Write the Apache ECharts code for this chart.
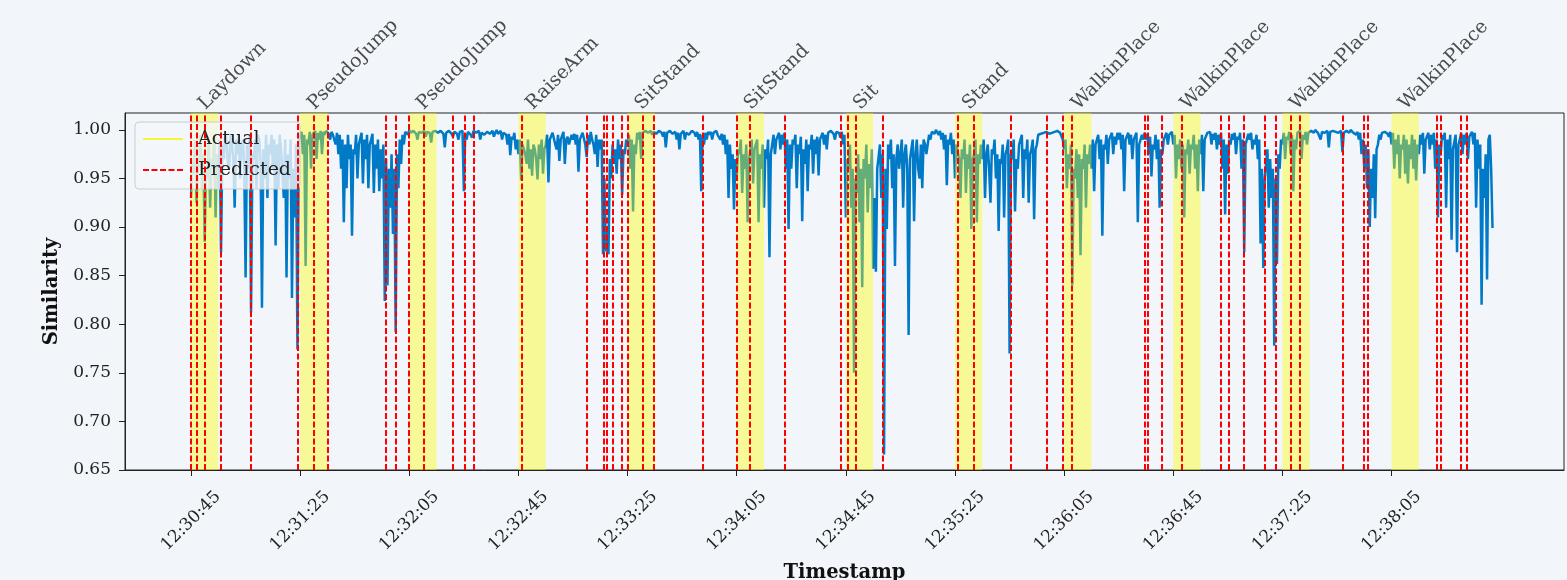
<!DOCTYPE html>
<html><head><meta charset="utf-8">
<script src="https://cdn.jsdelivr.net/npm/echarts@6/dist/echarts.min.js"></script>
<style>html,body{margin:0;padding:0;background:#f2f6fa;}#c{width:1567px;height:580px;}</style>
</head><body><div id="c"></div>
<script>
// ---- data ----
const activities = ['Laydown','PseudoJump','PseudoJump','RaiseArm','SitStand','SitStand','Sit','Stand','WalkinPlace','WalkinPlace','WalkinPlace','WalkinPlace'];
const bandStarts = ['12:30:45','12:31:25','12:32:05','12:32:45','12:33:25','12:34:05','12:34:45','12:35:25','12:36:05','12:36:45','12:37:25','12:38:05'];
const bandEnds   = ['12:30:55','12:31:35','12:32:15','12:32:55','12:33:35','12:34:15','12:34:55','12:35:35','12:36:15','12:36:55','12:37:35','12:38:15'];
const predictedTimes = ['12:30:44.9','12:30:47.1','12:30:50.1','12:30:56.0','12:31:07.0','12:31:24.0','12:31:30.1','12:31:35.2',
  '12:31:56.5','12:32:00.2','12:32:04.9','12:32:10.4','12:32:21.1','12:32:25.4','12:32:28.8','12:32:46.2',
  '12:33:10.0','12:33:16.2','12:33:17.3','12:33:19.4','12:33:22.8','12:33:24.9','12:33:30.5','12:33:34.6',
  '12:33:52.5','12:34:05.0','12:34:09.6','12:34:22.7','12:34:43.2','12:34:45.7','12:34:48.8','12:34:58.5',
  '12:35:26.0','12:35:31.7','12:35:45.5','12:35:58.5','12:36:04.5','12:36:07.9','12:36:34.4','12:36:35.5',
  '12:36:40.6','12:36:48.2','12:37:02.4','12:37:05.3','12:37:10.8','12:37:18.5','12:37:22.4','12:37:27.9',
  '12:37:31.2','12:37:47.1','12:37:54.7','12:37:56.3','12:38:21.6','12:38:23.2','12:38:30.5','12:38:32.6'];
const tickLabels = ['12:30:45','12:31:25','12:32:05','12:32:45','12:33:25','12:34:05','12:34:45','12:35:25','12:36:05','12:36:45','12:37:25','12:38:05'];
const yTickValues = [0.65,0.70,0.75,0.80,0.85,0.90,0.95,1.00];
const seriesStart = '12:30:45';
const sampleSeconds = 0.5;
const similarity = [
0.93,0.97,0.955,0.99,0.925,0.96,0.97,0.995,0.94,0.975,0.885,0.96,0.95,0.99,0.92,0.97,0.96,0.995,0.91,0.975,
0.94,0.99,0.874,0.985,0.97,0.995,0.99,0.965,0.96,0.995,0.985,0.97,0.92,0.99,0.975,0.995,0.95,0.985,0.99,0.96,
0.848,0.985,0.96,0.995,0.812,0.975,0.97,0.99,0.94,0.995,0.99,0.965,0.817,0.98,0.95,0.995,0.93,0.985,0.975,0.995,
0.96,0.99,0.881,0.985,0.94,0.995,0.98,0.955,0.93,0.99,0.848,0.975,0.95,0.99,0.827,0.96,0.91,0.985,0.774,0.99,
0.99,0.998,0.975,0.995,0.86,0.99,0.985,0.998,0.96,0.995,0.995,0.999,0.97,0.997,0.99,0.999,0.975,0.998,0.995,0.999,
1.0,0.996,0.99,0.998,0.995,0.99,0.985,0.997,0.975,0.995,0.96,0.99,0.905,0.985,0.94,0.995,0.97,0.985,0.891,0.98,
0.975,0.995,0.95,0.985,0.985,0.997,0.945,0.99,0.97,0.995,0.94,0.985,0.99,0.996,0.935,0.985,0.96,0.99,0.937,0.98,
0.95,0.985,0.824,0.97,0.84,0.96,0.92,0.975,0.893,0.96,0.792,0.975,0.94,0.99,0.965,0.995,0.985,0.998,0.998,0.995,
1.0,0.997,0.995,0.999,0.998,0.996,0.99,0.998,1.0,0.997,0.996,0.999,0.993,0.998,1.0,0.997,0.987,0.998,0.998,0.999,
1.0,0.997,0.995,0.999,0.998,0.996,0.982,0.997,0.997,0.999,1.0,0.996,0.993,0.998,0.998,0.996,0.99,0.998,0.997,0.999,
0.937,0.996,0.99,0.998,0.998,0.995,0.992,0.999,1.0,0.997,0.995,0.999,0.99,0.997,0.998,0.995,0.994,0.998,1.0,0.996,
0.997,0.999,0.993,0.997,1.0,0.996,0.995,0.999,0.99,0.997,0.998,0.995,0.985,0.996,0.974,0.993,0.99,0.997,0.98,0.99,
0.975,0.99,0.948,0.985,0.985,0.975,0.965,0.99,0.96,0.98,0.953,0.985,0.98,0.97,0.949,0.985,0.97,0.99,0.955,0.98,
0.985,0.995,0.946,0.99,0.99,0.997,0.995,0.985,0.98,0.995,0.968,0.99,0.99,0.998,0.965,0.99,0.993,0.985,0.985,0.995,
0.99,0.996,0.985,0.995,0.957,0.99,0.99,0.997,0.995,0.985,0.972,0.995,0.985,0.998,0.99,0.985,0.975,0.995,0.962,0.99,
0.98,0.99,0.872,0.95,0.875,0.9,0.872,0.97,0.95,0.985,0.965,0.98,0.955,0.99,0.97,0.985,0.933,0.98,0.975,0.99,
0.985,0.995,0.96,0.99,0.916,0.985,0.975,0.997,0.99,0.998,0.97,0.997,0.995,0.999,1.0,0.997,0.998,0.999,0.995,0.998,
0.998,0.996,0.995,0.999,1.0,0.997,0.993,0.998,0.982,0.997,0.997,0.999,1.0,0.996,0.995,0.998,0.99,0.997,0.98,0.996,
0.997,0.999,0.99,0.997,0.998,0.995,0.995,0.999,1.0,0.997,0.993,0.998,0.99,0.996,0.937,0.995,0.985,0.997,0.99,0.998,
0.995,0.998,0.99,0.997,0.998,0.999,0.995,0.997,0.99,0.996,0.985,0.995,0.975,0.99,0.93,0.985,0.96,0.975,0.918,0.97,
0.95,0.98,0.975,0.99,0.935,0.975,0.96,0.985,0.905,0.97,0.97,0.99,0.945,0.98,0.98,0.99,0.905,0.975,0.96,0.985,
0.92,0.98,0.97,0.99,0.869,0.975,0.985,0.995,0.975,0.99,0.99,0.997,0.98,0.995,0.985,0.997,0.96,0.99,0.898,0.985,
0.96,0.99,0.985,0.995,0.94,0.985,0.975,0.993,0.906,0.98,0.965,0.99,0.937,0.985,0.98,0.995,0.955,0.99,0.975,0.993,
0.953,0.99,0.99,0.997,0.985,0.995,0.98,0.997,0.995,0.999,0.998,0.996,0.99,0.998,1.0,0.997,0.992,0.998,0.985,0.995,
0.91,0.97,0.96,0.985,0.92,0.96,0.75,0.95,0.935,0.975,0.905,0.96,0.838,0.97,0.95,0.985,0.915,0.965,0.94,0.98,
0.857,0.93,0.854,0.96,0.96,0.985,0.93,0.975,0.666,0.96,0.898,0.985,0.97,0.99,0.94,0.975,0.86,0.97,0.985,0.96,
0.96,0.99,0.92,0.975,0.985,0.96,0.789,0.97,0.97,0.99,0.906,0.975,0.99,0.96,0.95,0.985,0.94,0.99,0.985,0.975,
0.975,0.995,0.99,0.998,0.998,0.996,1.0,0.998,0.995,0.999,0.99,0.997,0.98,0.995,0.943,0.99,0.985,0.997,0.975,0.99,
0.95,0.985,0.985,0.97,0.93,0.98,0.97,0.99,0.935,0.975,0.96,0.985,0.898,0.97,0.975,0.99,0.905,0.975,0.965,0.985,
0.97,0.99,0.93,0.975,0.985,0.96,0.925,0.98,0.975,0.99,0.95,0.975,0.896,0.97,0.965,0.985,0.91,0.975,0.98,0.99,
0.77,0.975,0.97,0.99,0.916,0.97,0.96,0.985,0.985,0.995,0.93,0.98,0.97,0.99,0.925,0.975,0.98,0.99,0.908,0.98,
0.985,0.995,0.997,0.996,0.998,0.997,0.996,0.998,0.997,0.996,0.998,0.997,0.996,0.998,0.997,0.999,0.999,0.997,0.995,0.99,
0.98,0.99,0.94,0.975,0.96,0.985,0.84,0.96,0.95,0.98,0.93,0.975,0.871,0.97,0.96,0.985,0.92,0.975,0.965,0.985,
0.96,0.99,0.937,0.985,0.985,0.995,0.97,0.99,0.891,0.985,0.98,0.995,0.965,0.99,0.99,0.997,0.975,0.993,0.985,0.997,
0.99,0.997,0.98,0.995,0.937,0.99,0.99,0.997,0.985,0.995,0.97,0.99,0.99,0.997,0.905,0.985,0.985,0.995,0.99,0.997,
0.99,0.996,0.975,0.993,0.952,0.985,0.98,0.995,0.97,0.99,0.92,0.98,0.975,0.99,0.99,0.997,0.985,0.995,0.995,0.998,
0.985,0.995,0.95,0.985,0.97,0.99,0.96,0.985,0.91,0.98,0.975,0.99,0.955,0.985,0.98,0.995,0.96,0.985,0.937,0.99,
0.975,0.995,0.937,0.99,0.99,0.997,0.995,0.998,0.985,0.996,0.99,0.997,0.98,0.995,0.985,0.997,0.96,0.99,0.913,0.985,
0.955,0.99,0.985,0.996,0.99,0.997,0.975,0.993,0.99,0.997,0.96,0.99,0.874,0.985,0.985,0.996,0.99,0.997,0.98,0.99,
0.985,0.995,0.97,0.99,0.883,0.96,0.858,0.95,0.95,0.98,0.92,0.97,0.93,0.96,0.778,0.95,0.862,0.975,0.96,0.99,
0.985,0.997,0.97,0.993,0.99,0.998,0.975,0.995,0.937,0.99,0.98,0.997,0.995,0.999,0.97,0.995,0.99,0.998,0.985,0.997,
0.995,0.999,0.998,0.997,1.0,0.998,0.997,0.999,0.99,0.998,0.998,0.997,0.995,0.999,0.982,0.998,0.997,0.999,1.0,0.998,
0.998,0.997,0.997,0.999,0.977,0.997,0.995,0.999,0.998,0.997,1.0,0.998,0.997,0.999,0.995,0.998,0.99,0.997,0.975,0.99,
0.96,0.985,0.94,0.98,0.90,0.96,0.93,0.975,0.909,0.98,0.985,0.995,0.99,0.997,0.995,0.998,0.998,0.996,0.993,0.998,
0.985,0.997,0.96,0.99,0.975,0.995,0.95,0.985,0.98,0.995,0.955,0.99,0.945,0.985,0.97,0.995,0.96,0.99,0.948,0.985,
0.975,0.995,0.985,0.997,0.955,0.99,0.99,0.997,0.98,0.995,0.985,0.997,0.96,0.99,0.91,0.985,0.975,0.995,0.99,0.997,
0.92,0.99,0.97,0.995,0.887,0.98,0.98,0.995,0.874,0.985,0.99,0.997,0.975,0.995,0.985,0.997,0.97,0.993,0.995,0.998,
0.985,0.997,0.92,0.99,0.96,0.985,0.82,0.96,0.93,0.975,0.846,0.99,0.995,0.96,0.899
];

// ---- helpers ----
function toSec(t){const p=t.split(':');return (+p[0])*3600+(+p[1])*60+parseFloat(p[2]);}
function pad(n){return (n<10?'0':'')+n;}
function fmtTime(v){const s=Math.round(v);return pad(Math.floor(s/3600))+':'+pad(Math.floor(s%3600/60))+':'+pad(s%60);}

const FONT='DejaVu Serif';
const X_MIN=toSec('12:30:20.8'), X_MAX=toSec('12:39:08.2');
const Y_MIN=0.65, Y_MAX=1.0174;
const t0=toSec(seriesStart);
const lineData=similarity.map((v,i)=>[t0+i*sampleSeconds,v]);
const tickVals=tickLabels.map(toSec);

const chart=echarts.init(document.getElementById('c'),null,{renderer:'canvas'});
chart.setOption({
  backgroundColor:'#f2f6fa',
  animation:false,
  textStyle:{fontFamily:FONT},
  grid:{left:125,right:3,top:113,bottom:110,show:true,borderColor:'#222',borderWidth:1,backgroundColor:'transparent',containLabel:false,outerBoundsMode:'none'},
  legend:{
    data:['Actual','Predicted'],orient:'vertical',left:135,top:122,
    padding:[6,9,8,7],itemGap:9,itemWidth:40,itemHeight:14,
    itemStyle:{opacity:0},
    backgroundColor:'rgba(242,246,250,0.8)',borderColor:'#cccccc',borderWidth:1,borderRadius:4,
    textStyle:{fontFamily:FONT,fontSize:19,color:'#222',padding:[0,0,0,10],lineHeight:22}
  },
  xAxis:{
    type:'value',min:X_MIN,max:X_MAX,
    name:'Timestamp',nameLocation:'middle',nameGap:93,
    nameTextStyle:{fontFamily:FONT,fontSize:19.5,fontWeight:'bold',color:'#111'},
    axisLine:{show:true,lineStyle:{color:'#222',width:1}},
    axisTick:{show:true,inside:false,length:6,customValues:tickVals,lineStyle:{color:'#222'}},
    axisLabel:{customValues:tickVals,formatter:fmtTime,rotate:45,align:'center',verticalAlign:'middle',margin:51,
      fontFamily:FONT,fontSize:17,color:'#222'},
    splitLine:{show:false}
  },
  yAxis:{
    type:'value',min:Y_MIN,max:Y_MAX,
    name:'Similarity',nameLocation:'middle',nameGap:55,nameRotate:90,
    nameTextStyle:{fontFamily:FONT,fontSize:19.5,fontWeight:'bold',color:'#111'},
    axisLine:{show:true,lineStyle:{color:'#222',width:1}},
    axisTick:{show:true,inside:false,length:6,customValues:yTickValues,lineStyle:{color:'#222'}},
    axisLabel:{customValues:yTickValues,formatter:v=>v.toFixed(2),margin:14,fontFamily:FONT,fontSize:17,color:'#222'},
    splitLine:{show:false}
  },
  series:[
    {
      name:'Similarity',type:'line',data:lineData,showSymbol:false,symbol:'none',z:2,
      lineStyle:{color:'#0079c7',width:2.5},itemStyle:{color:'#0079c7'},sampling:null,clip:true
    },
    {
      name:'Actual',type:'line',data:[],symbol:'none',z:3,color:'#f5f53a',
      lineStyle:{color:'#f5f53a',width:1},itemStyle:{color:'#f5f53a'},
      markArea:{silent:true,z:3,itemStyle:{color:'rgba(255,255,0,0.4)'},label:{show:false},
        data:bandStarts.map((s,i)=>[{xAxis:toSec(s)},{xAxis:toSec(bandEnds[i])}])}
    },
    {
      name:'Predicted',type:'line',data:[],symbol:'none',z:4,color:'#ff0000',
      lineStyle:{color:'#ff0000',width:2,type:[6,2.5]},itemStyle:{color:'#ff0000'},
      markLine:{silent:true,symbol:['none','none'],z:4,label:{show:false},
        lineStyle:{color:'#ff0000',width:2,type:[6,2.5]},
        data:predictedTimes.map(t=>({xAxis:toSec(t)}))}
    },
    {
      name:'labels',type:'scatter',symbol:'circle',symbolSize:1,clip:false,z:5,
      itemStyle:{color:'rgba(0,0,0,0)'},silent:true,
      data:bandStarts.map((s,i)=>({value:[toSec(s),Y_MAX],name:activities[i]})),
      label:{show:true,formatter:p=>p.name,position:[18,1],align:'left',verticalAlign:'bottom',rotate:45,
        fontFamily:FONT,fontSize:19,color:'#222'}
    }
  ]
});
</script></body></html>
